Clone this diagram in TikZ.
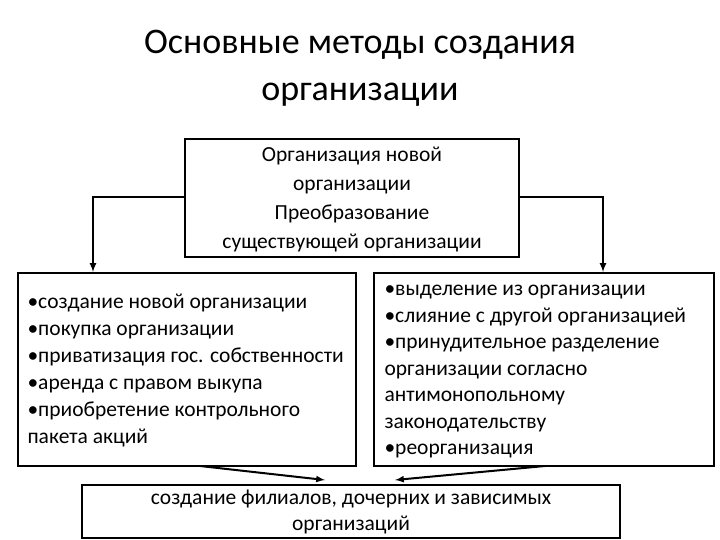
\documentclass[tikz,border=0pt]{standalone}
\usepackage{fontspec}
\setmainfont{Carlito}
\begin{document}
\begin{tikzpicture}[x=1pt,y=-1pt,
  box/.style={draw,line width=2pt,inner sep=0pt},
  txt/.style={font=\fontsize{21.5}{27}\selectfont},
  arr/.style={line width=2pt,-latex}]
\useasboundingbox (0,0) rectangle (720,540);
\node (title) at (360,68) [align=center,font=\fontsize{36}{47}\selectfont] {Основные методы создания\\организации};
\node[box,minimum width=334,minimum height=117] (top) at (352,198) {};
\node[txt,align=center,font=\fontsize{21.5}{29}\selectfont] (toptxt) at (352,200) {Организация новой\\организации\\Преобразование\\существующей организации};
\node[box,minimum width=338,minimum height=193] (left) at (187,369.5) {};
\node[txt,align=left,anchor=west] (lefttxt) at (24,371) {•создание новой организации\\•покупка организации\\•приватизация гос. собственности\\•аренда с правом выкупа\\•приобретение контрольного\\пакета акций};
\node[box,minimum width=340,minimum height=193] (right) at (544,369.5) {};
\node[txt,align=left,anchor=west,font=\fontsize{21.5}{26.5}\selectfont] (righttxt) at (381,372) {•выделение из организации\\•слияние с другой организацией\\•принудительное разделение\\организации согласно\\антимонопольному\\законодательству\\•реорганизация};
\node[box,minimum width=538,minimum height=53] (bot) at (351,511.5) {};
\node[txt,align=center] (bottxt) at (351,512) {создание филиалов, дочерних и зависимых\\организаций};
\coordinate (lc) at (93,197);
\coordinate (rc) at (603,197);
\draw[arr] (top.west |- lc) -- (lc) -- (lc |- left.north);
\draw[arr] (top.east |- rc) -- (rc) -- (rc |- right.north);
\coordinate (la) at (200,466);
\coordinate (ra) at (545,466);
\draw[arr] (la) -- (325,480);
\draw[arr] (ra) -- (395,480);
\end{tikzpicture}
\end{document}
